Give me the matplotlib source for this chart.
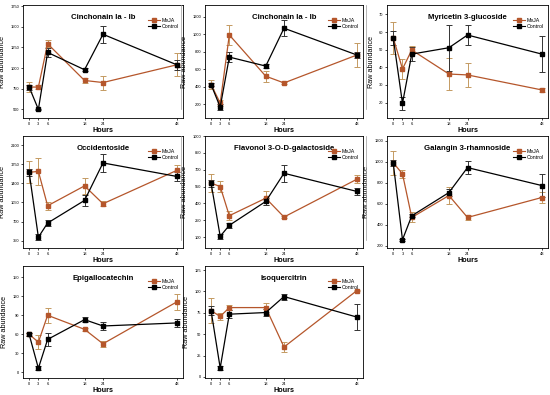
import matplotlib
matplotlib.use("Agg")
import matplotlib.pyplot as plt
from matplotlib.lines import Line2D

plt.rcParams['font.family'] = ['Liberation Sans', 'DejaVu Sans']

hours = [0, 3, 6, 18, 24, 48]

titles = ["Cinchonain Ia - Ib", "Cinchonain Ia - Ib", "Myricetin 3-glucoside",
          "Occidentoside", "Flavonol 3-O-D-galactoside", "Galangin 3-rhamnoside",
          "Epigallocatechin", "Isoquercitrin"]

meja = [
    [770, 770, 1295, 850, 825, 1040],
    [423, 212, 992, 519, 442, 762],
    [56.8, 39.1, 49.8, 36.2, 35.7, 27.2],
    [1599, 1618, 988, 1352, 1025, 1636],
    [580, 550, 290, 446, 278, 615],
    [991, 884, 469, 678, 469, 659],
    [59.9, 47.7, 90.1, 67.9, 45.1, 111.3],
    [77.6, 70.7, 81.1, 81.1, 35.0, 101.0],
]
meja_err = [
    [60, 20, 40, 25, 85, 140],
    [48, 40, 110, 65, 10, 140],
    [9, 5.5, 2, 9, 7, 1.3],
    [200, 250, 75, 140, 50, 100],
    [80, 45, 40, 60, 8, 35],
    [113, 40, 48, 80, 27, 48],
    [2, 11, 12, 2, 5, 13],
    [15, 4, 3, 5, 6, 1],
]
control = [
    [770, 500, 1190, 980, 1410, 1040],
    [423, 165, 738, 635, 1069, 762],
    [56.8, 19.6, 47.5, 51.1, 58.3, 47.5],
    [1599, 413, 672, 1086, 1772, 1525],
    [580, 106, 204, 417, 668, 506],
    [991, 257, 485, 706, 944, 773],
    [59.9, 6.4, 52.0, 83.2, 73.2, 78.0],
    [77.6, 10.5, 73.4, 75.3, 94.0, 70.0],
]
control_err = [
    [30, 10, 50, 20, 100, 60],
    [20, 30, 55, 25, 92, 40],
    [4, 3.8, 4, 13, 5.5, 10],
    [60, 50, 60, 100, 170, 80],
    [30, 20, 22, 30, 75, 30],
    [30, 10, 15, 32, 63, 108],
    [2, 3, 10, 3.5, 6.5, 6],
    [5, 2, 5, 4, 3.5, 15],
]
yticks = [
    [500, 750, 1000, 1250, 1500, 1750],
    [200, 400, 600, 800, 1000, 1200],
    [20, 30, 40, 50, 60, 70],
    [350, 700, 1050, 1400, 1750, 2100],
    [100, 250, 400, 550, 700, 850, 1000],
    [200, 400, 600, 800, 1000, 1200],
    [0, 30, 60, 90, 120, 150],
    [0, 25, 50, 75, 100, 125],
]
ylims = [(395, 1765), (40, 1335), (11.3, 75.3), (215, 2265),
         (2, 1000), (178, 1245), (-9, 168), (-1.2, 129.7)]

W, H = 550, 395
fig = plt.figure(figsize=(W / 100, H / 100), dpi=100)

col_x = [(23, 183), (205, 363), (387, 548)]
row_y = [(5, 118), (136, 248), (266, 378)]

meja_col = '#B5562B'
meja_ecol = '#C49A62'

for i, name in enumerate(titles):
    r, c = divmod(i, 3)
    x0, x1 = col_x[c]
    y0, y1 = row_y[r]
    ax = fig.add_axes([x0 / W, 1 - y1 / H, (x1 - x0) / W, (y1 - y0) / H])

    ax.errorbar(hours, meja[i], yerr=meja_err[i], color=meja_col, ecolor=meja_ecol,
                elinewidth=0.7, capsize=2, capthick=0.7, lw=0.9,
                marker='s', ms=3, label='MeJA')
    ax.errorbar(hours, control[i], yerr=control_err[i], color='black', ecolor='#333333',
                elinewidth=0.7, capsize=2, capthick=0.7, lw=0.9,
                marker='s', ms=3, label='Control')

    ax.set_xlim(-2, 50)
    ax.set_ylim(*ylims[i])
    ax.set_xticks(hours)
    ax.set_yticks(yticks[i])
    ax.tick_params(labelsize=2.9, length=1.5, width=0.5, pad=1.2)
    for s in ax.spines.values():
        s.set_linewidth(0.6)

    ax.set_xlabel("Hours", fontsize=5.2, fontweight='bold', labelpad=1)
    ax.set_ylabel("Raw abundance", fontsize=5.2, labelpad=3)
    ax.text(0.5, 0.92, name, transform=ax.transAxes, ha='center', va='top',
            fontsize=5.6, fontweight='bold')

    handles = [Line2D([], [], color=meja_col, marker='s', ms=2.2, lw=0.8),
               Line2D([], [], color='black', marker='s', ms=2.2, lw=0.8)]
    ax.legend(handles, ['MeJA', 'Control'], loc='upper right',
              bbox_to_anchor=(1.0, 0.92), fontsize=3.8, frameon=False,
              handlelength=2.2, handletextpad=0.4, labelspacing=0.2,
              borderaxespad=0.3)

# thin borders between panel images
for r in range(2):
    top = row_y[r][0]
    for xpos in (181, 366):
        fig.add_artist(Line2D([xpos / W, xpos / W], [1 - top / H, 1 - (top + 104) / H],
                              color='#999999', lw=0.5))

fig.savefig("out.png", dpi=100)
